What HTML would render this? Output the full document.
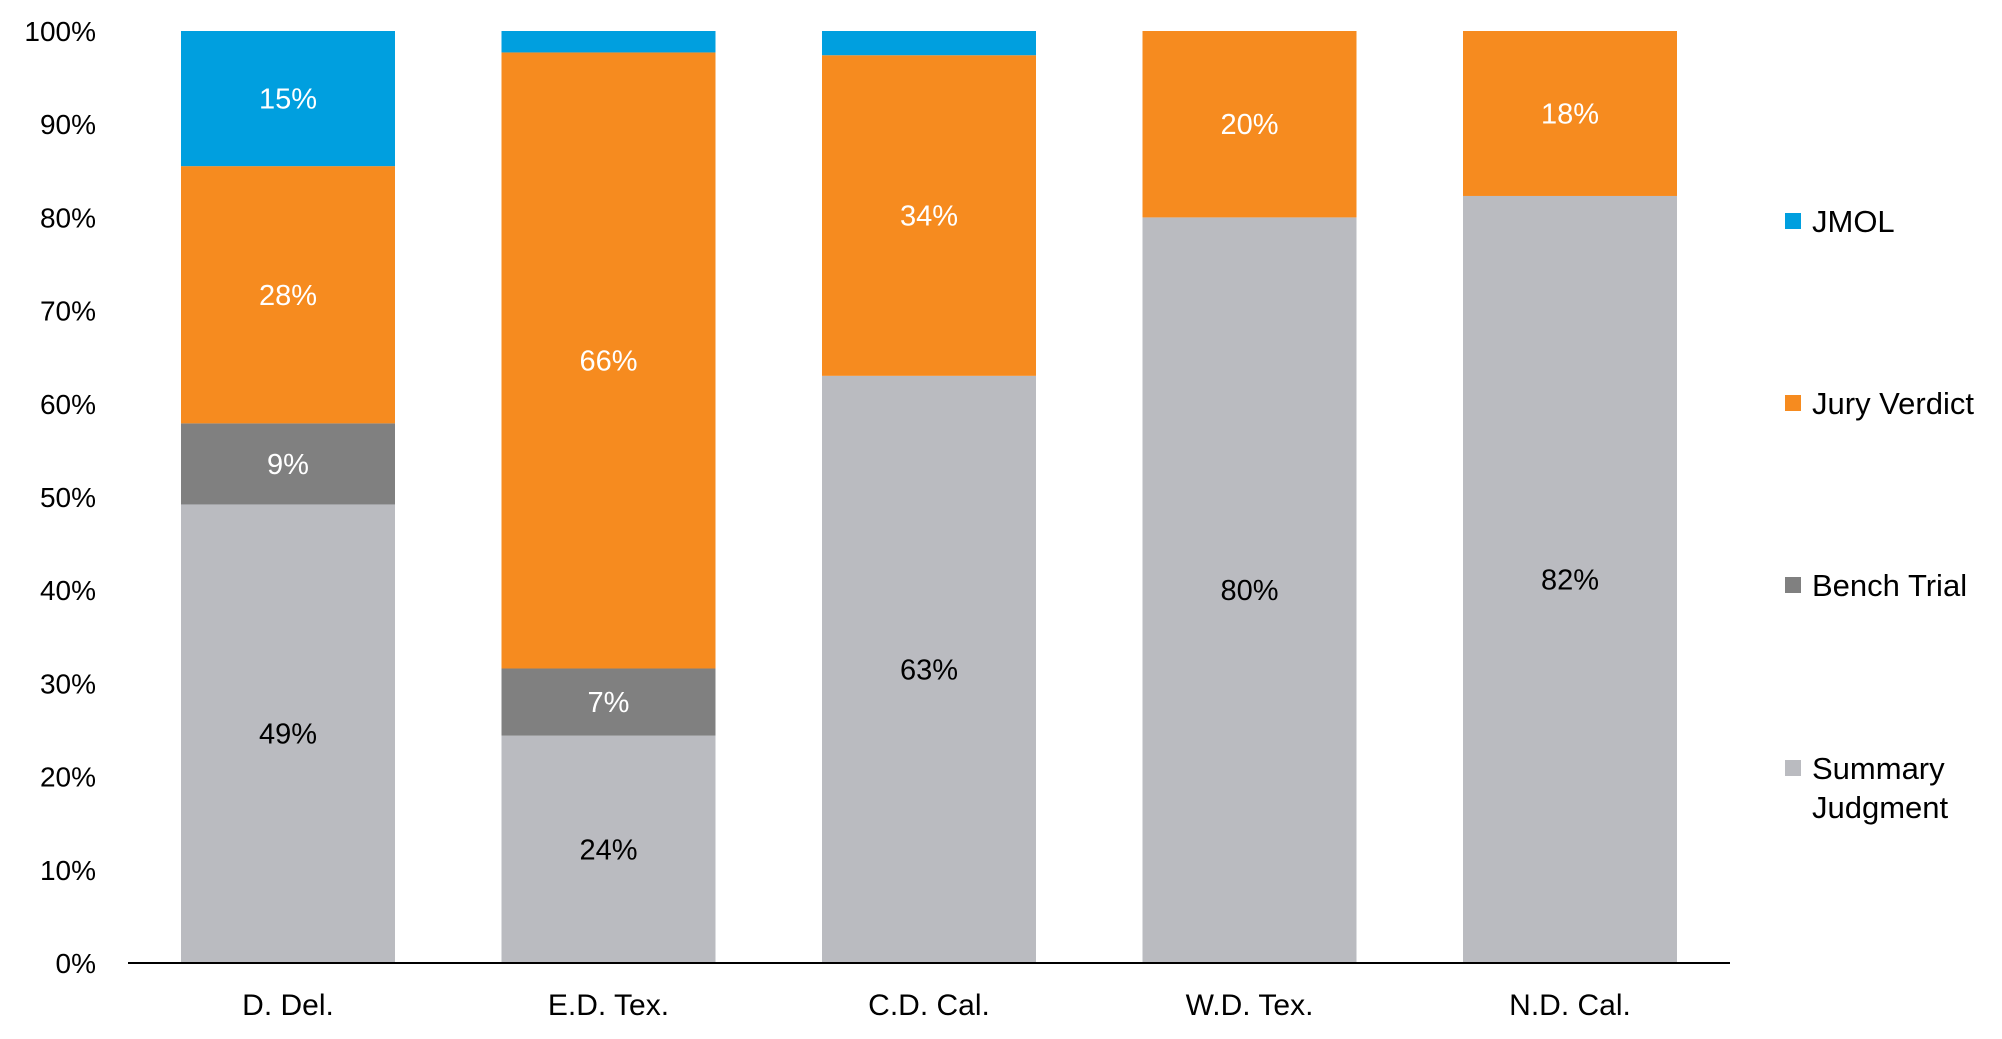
<!DOCTYPE html>
<html><head><meta charset="utf-8"><style>
html,body{margin:0;padding:0;background:#fff;}
svg{display:block;font-family:"Liberation Sans",sans-serif;}
</style></head><body>
<svg id="chart" width="2002" height="1039" viewBox="0 0 2002 1039" xmlns="http://www.w3.org/2000/svg">
<g id="yaxis"></g>
<g id="bars"></g>
<line x1="128" y1="963" x2="1730" y2="963" stroke="#000" stroke-width="2"/>
<g id="xaxis"></g>
<g id="legend"></g>
</svg>
<script>
const categories = ["D. Del.", "E.D. Tex.", "C.D. Cal.", "W.D. Tex.", "N.D. Cal."];
const summaryJudgment = [49.2, 24.4, 63.0, 80.0, 82.3];
const benchTrial = [8.7, 7.2, 0, 0, 0];
const juryVerdict = [27.6, 66.1, 34.4, 20.0, 17.7];
const jmol = [14.5, 2.3, 2.6, 0, 0];
const yTicks = [0, 10, 20, 30, 40, 50, 60, 70, 80, 90, 100];

const NS = "http://www.w3.org/2000/svg";
const y0 = 963, y100 = 31;
function yScale(v){ return y0 - (y100 ? (y0 - y100) * v / 100 : 0); }
const firstCenter = 288, step = 320.5, barW = 214;
function xCenter(i){ return firstCenter + i * step; }

const series = [
  {name:"Summary Judgment", key:"summary-judgment", vals:summaryJudgment, color:"#BABBC0", text:"#000"},
  {name:"Bench Trial", key:"bench-trial", vals:benchTrial, color:"#808080", text:"#fff"},
  {name:"Jury Verdict", key:"jury-verdict", vals:juryVerdict, color:"#F68B1F", text:"#fff"},
  {name:"JMOL", key:"jmol", vals:jmol, color:"#009FDF", text:"#fff"}
];

function mk(tag, attrs){ const e = document.createElementNS(NS, tag); for (const k in attrs) e.setAttribute(k, attrs[k]); return e; }

const ya = document.getElementById("yaxis");
yTicks.forEach(t => {
  const tx = mk("text", {x:96, y:yScale(t)+10, "text-anchor":"end", "font-size":"28", fill:"#000"});
  
  
  tx.textContent = t + "%";
  ya.appendChild(tx);
});

const bars = document.getElementById("bars");
categories.forEach((c, i) => {
  let cum = 0;
  series.forEach(s => {
    const v = s.vals[i];
    if (v <= 0) return;
    const top = yScale(cum + v), bot = yScale(cum);
    const r = mk("rect", {x:xCenter(i)-barW/2, y:top, width:barW, height:bot-top, fill:s.color});
    
    
    bars.appendChild(r);
    if (v >= 5) {
      const t = mk("text", {x:xCenter(i), y:(top+bot)/2+10, "text-anchor":"middle", "font-size":"29", fill:s.text});
      
      
      t.textContent = Math.round(v) + "%";
      bars.appendChild(t);
    }
    cum += v;
  });
});

const xa = document.getElementById("xaxis");
categories.forEach((c, i) => {
  const t = mk("text", {x:xCenter(i), y:1015, "text-anchor":"middle", "font-size":"30", fill:"#000"});
  
  
  t.textContent = c;
  xa.appendChild(t);
});

const lg = document.getElementById("legend");
const legendItems = [
  {s:series[3], y:221, lines:["JMOL"]},
  {s:series[2], y:403, lines:["Jury Verdict"]},
  {s:series[1], y:585, lines:["Bench Trial"]},
  {s:series[0], y:768, lines:["Summary","Judgment"]}
];
legendItems.forEach(it => {
  const g = mk("g", {});
  
  
  const sq = mk("rect", {x:1785, y:it.y-8, width:16, height:16, fill:it.s.color});
  
  
  g.appendChild(sq);
  it.lines.forEach((ln, j) => {
    const t = mk("text", {x:1812, y:it.y+11+j*39, "font-size":"31", fill:"#000"});
    
    
    t.textContent = ln;
    g.appendChild(t);
  });
  lg.appendChild(g);
});
</script>
</body></html>
